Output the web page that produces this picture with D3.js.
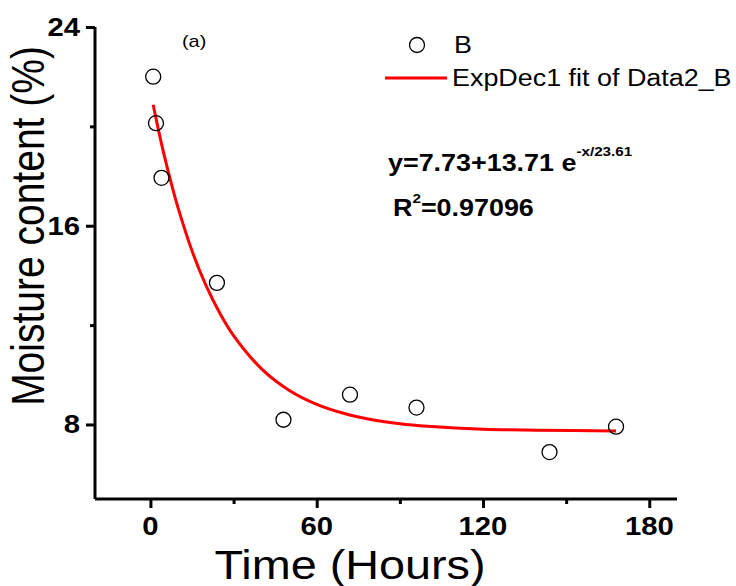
<!DOCTYPE html>
<html><head><meta charset="utf-8">
<script src="https://cdn.jsdelivr.net/npm/d3@7"></script>
<style>body{margin:0;background:#fff}svg{display:block}text{font-family:Arial,"Liberation Sans",sans-serif}</style>
</head><body>
<script>
const hours = [1, 2, 4, 24, 48, 72, 96, 144, 168];
const moisture = [22.0, 20.13, 17.93, 13.7, 8.19, 9.2, 8.68, 6.89, 7.91];
const fitX = [1, 3, 5, 8, 10, 15, 20, 25, 30, 40, 50, 60, 70, 80, 90, 100, 120, 140, 168];
const fitY = [20.87, 19.80, 18.82, 17.50, 16.71, 14.99, 13.61, 12.49, 11.58, 10.25, 9.38, 8.81, 8.44, 8.19, 8.03, 7.93, 7.81, 7.77, 7.74];
const xMajor = [0, 60, 120, 180];
const xMinor = [30, 90, 150];
const yMajor = [8, 16, 24];
const yMinor = [12, 20];

const W = 736, H = 586, SX = 1.17;
const svg = d3.select("body").append("svg").attr("width", W).attr("height", H);
const x = d3.scaleLinear().domain([-20, 190]).range([95, 677]);
const y = d3.scaleLinear().domain([5, 24]).range([499, 27]);

// axes
const gx = svg.append("g").attr("transform", "translate(0," + y(5) + ")");
gx.call(d3.axisBottom(x).tickValues(xMajor).tickSize(9).tickFormat(""));
gx.append("g").call(d3.axisBottom(x).tickValues(xMinor).tickSize(5).tickFormat("")).select(".domain").remove();
const gy = svg.append("g").attr("transform", "translate(" + x(-20) + ",0)");
gy.call(d3.axisLeft(y).tickValues(yMajor).tickSize(9).tickFormat(""));
gy.append("g").call(d3.axisLeft(y).tickValues(yMinor).tickSize(5).tickFormat("")).select(".domain").remove();
svg.selectAll(".domain").attr("stroke", "#000").attr("stroke-width", 3);
svg.selectAll(".tick line").attr("stroke", "#000").attr("stroke-width", 3);
gx.select(".domain").attr("d", "M" + x(-20) + ",0H" + x(190));
gy.select(".domain").attr("d", "M0," + y(5) + "V" + y(24));

// tick labels (bold, slightly wide glyphs)
svg.selectAll("text.xl").data(xMajor).join("text").attr("class", "xl")
  .attr("transform", d => "translate(" + x(d) + ",535) scale(" + SX + ",1)")
  .attr("text-anchor", "middle").attr("font-size", 25).attr("font-weight", "bold").text(d => d);
svg.selectAll("text.yl").data(yMajor).join("text").attr("class", "yl")
  .attr("transform", d => "translate(80," + (y(d) + 9) + ") scale(" + SX + ",1)")
  .attr("text-anchor", "end").attr("font-size", 25).attr("font-weight", "bold").text(d => d);

// fit line
const line = d3.line().x((d, i) => x(fitX[i])).y((d, i) => y(fitY[i])).curve(d3.curveCatmullRom);
svg.append("path").attr("d", line(fitX)).attr("fill", "none").attr("stroke", "#ff0000").attr("stroke-width", 3);

// points
svg.selectAll("circle.pt").data(hours).join("circle").attr("class", "pt")
  .attr("cx", d => x(d)).attr("cy", (d, i) => y(moisture[i])).attr("r", 7.5)
  .attr("fill", "none").attr("stroke", "#000").attr("stroke-width", 1.3);

// titles
svg.append("text").attr("transform", "translate(350,579) scale(" + SX + ",1)").attr("text-anchor", "middle").attr("font-size", 40).text("Time (Hours)");
svg.append("text").attr("transform", "translate(44,226) scale(" + SX + ",1) rotate(-90)").attr("text-anchor", "middle").attr("font-size", 39).text("Moisture content (%)");
svg.append("text").attr("transform", "translate(182,47) scale(" + SX + ",1)").attr("font-size", 17).text("(a)");

// legend
svg.append("circle").attr("cx", 417).attr("cy", 45).attr("r", 7.5).attr("fill", "none").attr("stroke", "#000").attr("stroke-width", 1.3);
svg.append("text").attr("transform", "translate(454,53) scale(" + SX + ",1)").attr("font-size", 23).text("B");
svg.append("line").attr("x1", 385).attr("x2", 447).attr("y1", 78).attr("y2", 78).attr("stroke", "#ff0000").attr("stroke-width", 3);
svg.append("text").attr("transform", "translate(452,86) scale(" + SX + ",1)").attr("font-size", 23).text("ExpDec1 fit of Data2_B");

// equation
const eq = svg.append("text").attr("transform", "translate(388,171) scale(" + SX + ",1)").attr("font-size", 23).attr("font-weight", "bold");
eq.append("tspan").text("y=7.73+13.71 e");
eq.append("tspan").attr("dy", -15).attr("font-size", 13).text("-x/23.61");
const r2 = svg.append("text").attr("transform", "translate(393,216) scale(" + SX + ",1)").attr("font-size", 23).attr("font-weight", "bold");
r2.append("tspan").text("R");
r2.append("tspan").attr("dy", -13).attr("font-size", 13).text("2");
r2.append("tspan").attr("dy", 13).text("=0.97096");
</script>
</body></html>
